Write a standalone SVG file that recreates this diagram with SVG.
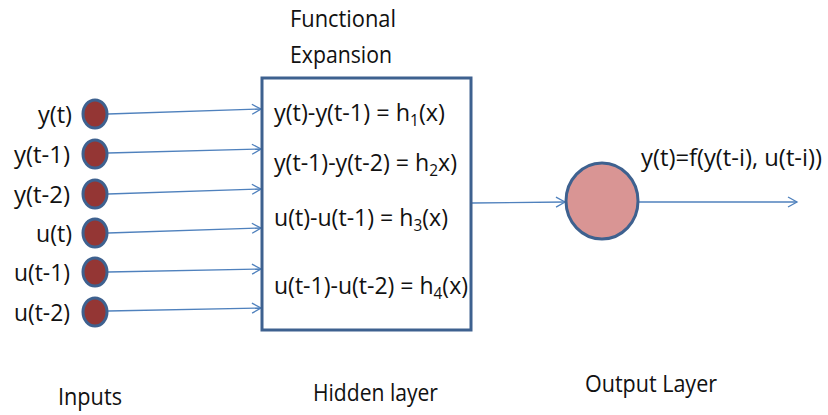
<svg xmlns="http://www.w3.org/2000/svg" width="828" height="415" viewBox="0 0 828 415">
<style>
text{font-family:"Open Sans","Liberation Sans",sans-serif;font-size:24px;fill:#111}
.sub{font-size:16px}
.in{fill:#943634;stroke:#3e618f;stroke-width:3}
.out{fill:#d99594;stroke:#3e618f;stroke-width:3}
.box{fill:#fff;stroke:#3e618f;stroke-width:3}
.c{stroke:#4f81bd;stroke-width:1.3;fill:none;marker-end:url(#ah)}
</style>
<defs>
<marker id="ah" markerWidth="12" markerHeight="12" refX="10" refY="6" orient="auto" markerUnits="userSpaceOnUse">
<path d="M1,1 L10,6 L1,11" fill="none" stroke="#4f81bd" stroke-width="1.3"/>
</marker>
</defs>
<g id="connectors">
<line class="c" x1="108" y1="114" x2="261" y2="109"/>
<line class="c" x1="108" y1="153" x2="261" y2="149"/>
<line class="c" x1="108" y1="194" x2="261" y2="189"/>
<line class="c" x1="108" y1="233" x2="261" y2="228"/>
<line class="c" x1="108" y1="272" x2="261" y2="269"/>
<line class="c" x1="108" y1="311" x2="261" y2="308"/>
<line class="c" x1="472" y1="203" x2="565" y2="202"/>
<line class="c" x1="639" y1="202" x2="797" y2="202"/>
</g>
<g id="in1"><ellipse class="in" cx="95" cy="114" rx="12" ry="14"/><text x="38" y="123" textLength="34" lengthAdjust="spacingAndGlyphs">y(t)</text></g>
<g id="in2"><ellipse class="in" cx="95" cy="154" rx="12" ry="14"/><text x="14" y="163" textLength="56" lengthAdjust="spacingAndGlyphs">y(t-1)</text></g>
<g id="in3"><ellipse class="in" cx="95" cy="194" rx="12" ry="14"/><text x="14" y="203" textLength="56" lengthAdjust="spacingAndGlyphs">y(t-2)</text></g>
<g id="in4"><ellipse class="in" cx="95" cy="233" rx="12" ry="14"/><text x="36" y="242" textLength="36" lengthAdjust="spacingAndGlyphs">u(t)</text></g>
<g id="in5"><ellipse class="in" cx="95" cy="272" rx="12" ry="14"/><text x="14" y="281" textLength="56" lengthAdjust="spacingAndGlyphs">u(t-1)</text></g>
<g id="in6"><ellipse class="in" cx="95" cy="312" rx="12" ry="14"/><text x="14" y="321" textLength="56" lengthAdjust="spacingAndGlyphs">u(t-2)</text></g>
<g id="hidden">
<text x="290" y="27" textLength="106" lengthAdjust="spacingAndGlyphs">Functional</text>
<text x="290" y="63" textLength="102" lengthAdjust="spacingAndGlyphs">Expansion</text>
<rect class="box" x="262" y="78" width="209" height="252"/>
<text x="274" y="121" textLength="171" lengthAdjust="spacingAndGlyphs">y(t)-y(t-1) = h<tspan class="sub" dy="5">1</tspan><tspan dy="-5">(x)</tspan></text>
<text x="274" y="171" textLength="183" lengthAdjust="spacingAndGlyphs">y(t-1)-y(t-2) = h<tspan class="sub" dy="5">2</tspan><tspan dy="-5">x)</tspan></text>
<text x="274" y="226" textLength="174" lengthAdjust="spacingAndGlyphs">u(t)-u(t-1) = h<tspan class="sub" dy="5">3</tspan><tspan dy="-5">(x)</tspan></text>
<text x="274" y="294" textLength="194" lengthAdjust="spacingAndGlyphs">u(t-1)-u(t-2) = h<tspan class="sub" dy="5">4</tspan><tspan dy="-5">(x)</tspan></text>
</g>
<g id="output">
<ellipse class="out" cx="602" cy="201" rx="36" ry="38"/>
<text x="641" y="166" textLength="181" lengthAdjust="spacingAndGlyphs">y(t)=f(y(t-i), u(t-i))</text>
</g>
<g id="labels">
<text x="58" y="405" textLength="64" lengthAdjust="spacingAndGlyphs">Inputs</text>
<text x="313" y="401" textLength="125" lengthAdjust="spacingAndGlyphs">Hidden layer</text>
<text x="585" y="392" textLength="132" lengthAdjust="spacingAndGlyphs">Output Layer</text>
</g>
</svg>
